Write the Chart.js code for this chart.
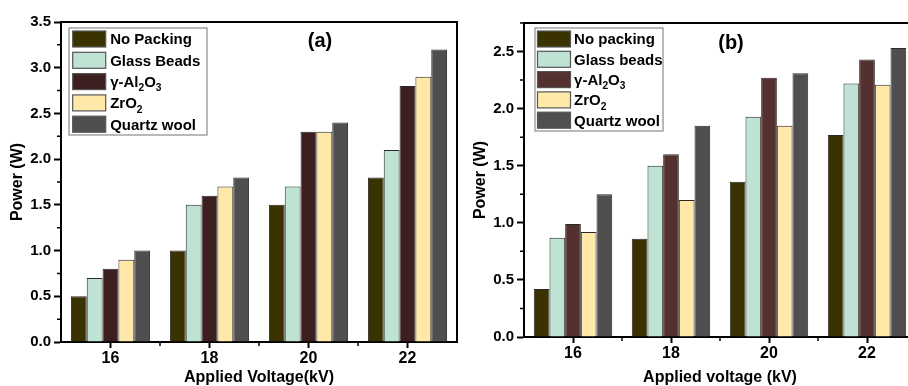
<!DOCTYPE html>
<html><head><meta charset="utf-8">
<script src="https://cdn.jsdelivr.net/npm/chart.js@4.4.1/dist/chart.umd.min.js"></script>
<style>
html,body{margin:0;padding:0;background:#fff;width:908px;height:386px;overflow:hidden;position:relative}
#ca{position:absolute;left:0;top:0}
#cb{position:absolute;left:462px;top:0}
</style></head><body>
<canvas id="ca" width="464" height="386"></canvas>
<canvas id="cb" width="460" height="386"></canvas>
<script>
// ---- data ----
const voltages = ['16', '18', '20', '22'];
const seriesNamesA = ['No Packing', 'Glass Beads', 'γ-Al₂O₃', 'ZrO₂', 'Quartz wool'];
const seriesNamesB = ['No packing', 'Glass beads', 'γ-Al₂O₃', 'ZrO₂', 'Quartz wool'];
const noPackingA  = [0.5, 1.0, 1.5, 1.8];
const glassBeadsA = [0.7, 1.5, 1.7, 2.1];
const aluminaA    = [0.8, 1.6, 2.3, 2.8];
const zirconiaA   = [0.9, 1.7, 2.3, 2.9];
const quartzA     = [1.0, 1.8, 2.4, 3.2];
const noPackingB  = [0.42, 0.86, 1.36, 1.77];
const glassBeadsB = [0.87, 1.50, 1.93, 2.22];
const aluminaB    = [0.99, 1.60, 2.27, 2.43];
const zirconiaB   = [0.92, 1.20, 1.85, 2.21];
const quartzB     = [1.25, 1.85, 2.31, 2.53];
const yTicksA = [0, 0.5, 1.0, 1.5, 2.0, 2.5, 3.0, 3.5];
const yTicksB = [0, 0.5, 1.0, 1.5, 2.0, 2.5];
const panelLabelA = '(a)';
const panelLabelB = '(b)';
const xTitleA = 'Applied Voltage(kV)';
const xTitleB = 'Applied voltage (kV)';
const yTitle = 'Power (W)';

// ---- styles ----
const FONT = "'Liberation Sans', Arial, sans-serif";
const coloursA = ['#3a3300', '#bee3d2', '#3e1f20', '#ffe8a8', '#4f4f4f'];
const coloursB = ['#3a3300', '#bee3d2', '#54302f', '#ffe8a8', '#4f4f4f'];

function makeDatasets(names, arrays, colours) {
  return arrays.map((arr, i) => ({
    label: names[i], data: arr, backgroundColor: colours[i],
    borderColor: '#2a2a2a', borderWidth: 1,
    categoryPercentage: 0.8, barPercentage: 1.0
  }));
}

const SUBS = '₀₁₂₃₄₅₆₇₈₉';
function drawRich(ctx, text, x, y, size) {
  let cx = x;
  for (const ch of text) {
    const si = SUBS.indexOf(ch);
    if (si >= 0) {
      ctx.font = `bold ${size * 0.68}px ${FONT}`;
      ctx.fillText(String(si), cx, y + size * 0.28);
      cx += ctx.measureText(String(si)).width;
    } else {
      ctx.font = `bold ${size}px ${FONT}`;
      ctx.fillText(ch, cx, y);
      cx += ctx.measureText(ch).width;
    }
  }
}

const decorPlugin = {
  id: 'decor',
  afterDraw(chart, args, opts) {
    const { ctx, chartArea: a, scales: { x, y } } = chart;
    ctx.save();
    // frame top + right
    ctx.strokeStyle = '#000'; ctx.lineWidth = 2;
    ctx.beginPath();
    ctx.moveTo(a.left - 1, a.top); ctx.lineTo(a.right, a.top); ctx.lineTo(a.right, a.bottom + 1);
    ctx.stroke();
    // minor ticks
    ctx.lineWidth = 1.5;
    ctx.beginPath();
    for (let i = 0; i < opts.ticks.length - 1; i++) {
      const py = y.getPixelForValue((opts.ticks[i] + opts.ticks[i + 1]) / 2);
      ctx.moveTo(a.left - 4, py); ctx.lineTo(a.left, py);
    }
    const last = opts.ticks[opts.ticks.length - 1];
    if (y.max - last > 0.2) {
      const py = y.getPixelForValue(last + 0.25);
      ctx.moveTo(a.left - 4, py); ctx.lineTo(a.left, py);
    }
    for (let i = 0; i < x.ticks.length - 1; i++) {
      const px = (x.getPixelForTick(i) + x.getPixelForTick(i + 1)) / 2;
      ctx.moveTo(px, a.bottom); ctx.lineTo(px, a.bottom + 4);
    }
    ctx.stroke();
    // legend
    const L = opts.legend;
    const bx = a.left + L.dx, by = a.top + L.dy;
    ctx.fillStyle = '#fff';
    ctx.fillRect(bx, by, L.w, L.h);
    ctx.strokeStyle = '#8a8a8a'; ctx.lineWidth = 1.2;
    ctx.strokeRect(bx, by, L.w, L.h);
    chart.data.datasets.forEach((ds, i) => {
      const sx = bx + L.sx, sy = by + L.sy + i * L.step;
      ctx.fillStyle = ds.backgroundColor;
      ctx.fillRect(sx, sy, L.sw, L.sh);
      ctx.strokeStyle = '#555'; ctx.lineWidth = 1.2;
      ctx.strokeRect(sx, sy, L.sw, L.sh);
      ctx.fillStyle = '#000';
      ctx.textAlign = 'left'; ctx.textBaseline = 'alphabetic';
      drawRich(ctx, ds.label, sx + L.sw + L.tx, sy + L.sh / 2 + 15 * 0.36, 15);
    });
    // panel label
    ctx.fillStyle = '#000';
    ctx.font = `bold 20px ${FONT}`;
    ctx.textAlign = 'center'; ctx.textBaseline = 'middle';
    ctx.fillText(opts.panel, a.left + opts.px, a.top + opts.py);
    ctx.restore();
  }
};

function makeChart(id, names, arrays, colours, yMax, yTicks, cfg) {
  return new Chart(document.getElementById(id), {
    type: 'bar',
    data: { labels: voltages, datasets: makeDatasets(names, arrays, colours) },
    plugins: [decorPlugin],
    options: {
      responsive: false, animation: false, devicePixelRatio: 1,
      layout: { padding: { top: cfg.top, right: cfg.right, left: 0, bottom: 0 } },
      plugins: {
        legend: { display: false }, tooltip: { enabled: false },
        decor: { ticks: yTicks, legend: cfg.legend, panel: cfg.panel, px: cfg.px, py: cfg.py }
      },
      scales: {
        x: {
          type: 'category', offset: true,
          grid: { offset: false, drawOnChartArea: false, drawTicks: true, tickLength: 6, tickWidth: 2, tickColor: '#000' },
          border: { display: true, color: '#000', width: 2 },
          ticks: { color: '#000', font: { family: FONT, weight: 'bold', size: 16 }, padding: 1, maxRotation: 0 },
          title: { display: true, text: cfg.xTitle, color: '#000', font: { family: FONT, weight: 'bold', size: 16, lineHeight: 1 }, padding: { top: cfg.xtp, bottom: 0 } },
          afterFit(s) { s.height = cfg.xh; }
        },
        y: {
          min: 0, max: yMax,
          ticks: { stepSize: 0.5, color: '#000', font: { family: FONT, weight: 'bold', size: 15 }, padding: 3,
                   callback: v => Number(v).toFixed(1) },
          afterBuildTicks(s) { s.ticks = yTicks.map(v => ({ value: v })); },
          grid: { drawOnChartArea: false, drawTicks: true, tickLength: 7, tickWidth: 2, tickColor: '#000' },
          border: { display: true, color: '#000', width: 2 },
          title: { display: true, text: yTitle, color: '#000', font: { family: FONT, weight: 'bold', size: 16, lineHeight: 1 }, padding: { top: cfg.ytp, bottom: 0 } },
          afterFit(s) { s.width = cfg.yw; }
        }
      }
    }
  });
}

makeChart('ca', seriesNamesA, [noPackingA, glassBeadsA, aluminaA, zirconiaA, quartzA], coloursA, 3.5, yTicksA, {
  top: 22, right: 7, xh: 44, yw: 61, xtp: 0, ytp: 10, xTitle: xTitleA,
  legend: { dx: 8, dy: 6, w: 138, h: 107, sx: 3.7, sy: 3, sw: 33, sh: 16, step: 21.3, tx: 4.5 },
  panel: panelLabelA, px: 259, py: 19
});
makeChart('cb', seriesNamesB, [noPackingB, glassBeadsB, aluminaB, zirconiaB, quartzB], coloursB, 2.75, yTicksB, {
  top: 23, right: 6, xh: 49, yw: 62, xtp: 3, ytp: 10.7, xTitle: xTitleB,
  legend: { dx: 11, dy: 5, w: 128, h: 103, sx: 2.5, sy: 3, sw: 33, sh: 16, step: 20.3, tx: 3.6 },
  panel: panelLabelB, px: 207, py: 20
});
</script>
</body></html>
